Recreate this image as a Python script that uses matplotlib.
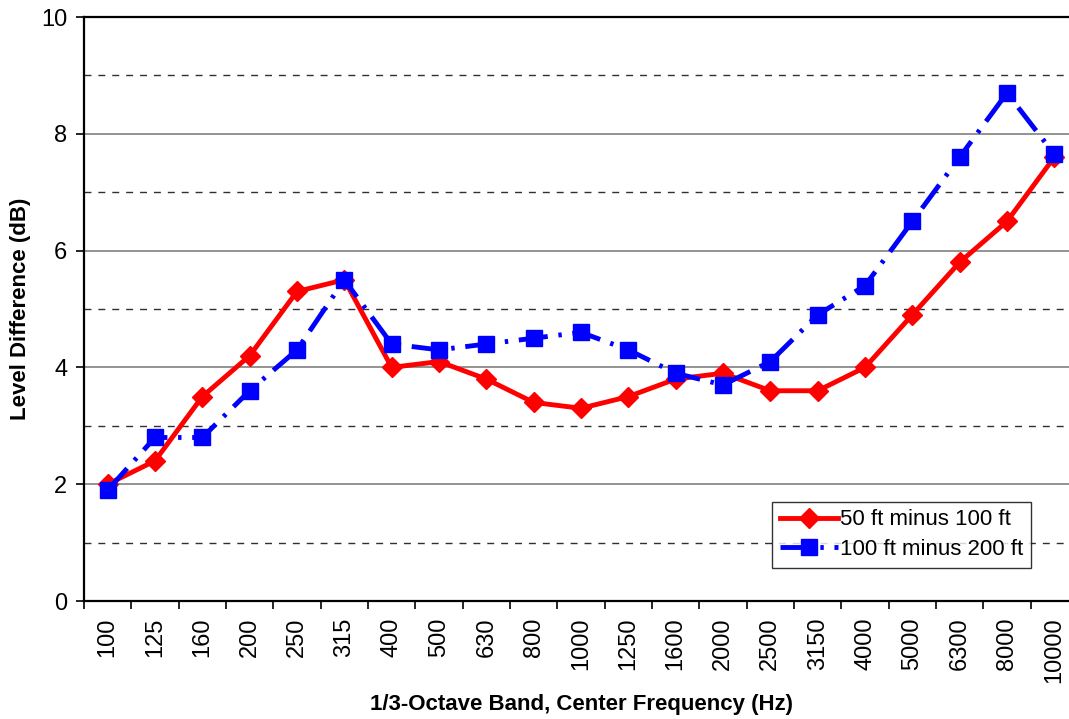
import matplotlib
matplotlib.use("Agg")
import matplotlib.pyplot as plt
import numpy as np

plt.rcParams['font.family'] = ['Liberation Sans', 'DejaVu Sans']

bands = ["100", "125", "160", "200", "250", "315", "400", "500", "630", "800",
         "1000", "1250", "1600", "2000", "2500", "3150", "4000", "5000",
         "6300", "8000", "10000"]
diff_50_100 = [2.0, 2.4, 3.5, 4.2, 5.3, 5.5, 4.0, 4.1, 3.8, 3.4,
               3.3, 3.5, 3.8, 3.9, 3.6, 3.6, 4.0, 4.9, 5.8, 6.5, 7.6]
diff_100_200 = [1.9, 2.8, 2.8, 3.6, 4.3, 5.5, 4.4, 4.3, 4.4, 4.5,
                4.6, 4.3, 3.9, 3.7, 4.1, 4.9, 5.4, 6.5, 7.6, 8.7, 7.65]

fig = plt.figure(figsize=(10.69, 7.19), dpi=100)
ax = fig.add_axes([84 / 1069, 118 / 719, 994 / 1069, 584 / 719])

x = np.arange(len(bands))

# grid lines like the Excel chart: solid at even, dashed at odd
for v in [2, 4, 6, 8]:
    ax.axhline(v, color='#808080', lw=1.2, zorder=1)
for v in [1, 3, 5, 7, 9]:
    ax.axhline(v, color='#303030', lw=1.0, ls=(0, (5, 5)), zorder=1)

ax.plot(x, diff_50_100, color='#ff0000', lw=3.5, marker='D', markersize=10,
        label='50 ft minus 100 ft', zorder=3)
ax.plot(x, diff_100_200, color='#0000ff', lw=3.5, marker='s', markersize=12,
        ls=(0, (6, 2.2, 0.7, 2.2)), label='100 ft minus 200 ft', zorder=3)

ax.set_xlim(-0.5, len(bands) - 0.5)
ax.set_ylim(0, 10)
ax.set_yticks(range(0, 11, 2))
ax.set_xticks(x)
ax.set_xticklabels(bands, rotation=90)
ax.set_xticks(np.arange(-0.5, len(bands), 1), minor=True)
ax.tick_params(axis='x', which='major', length=0, pad=12, labelsize=17)
ax.tick_params(axis='x', which='minor', length=6, width=1.2, direction='out')
ax.tick_params(axis='y', length=6, width=1.2, direction='out', labelsize=17, pad=6)

for s in ['left', 'bottom', 'top']:
    ax.spines[s].set_linewidth(1.6)
    ax.spines[s].set_color('black')
ax.spines['right'].set_visible(False)

ax.set_xlabel('1/3-Octave Band, Center Frequency (Hz)', fontsize=16,
              fontweight='bold', labelpad=8)
ax.set_ylabel('Level Difference (dB)', fontsize=16, fontweight='bold', labelpad=7)

leg = ax.legend(loc='lower right',
                bbox_to_anchor=((1031 - 84) / 994, (601 - 568) / 584),
                bbox_transform=ax.transAxes, fontsize=16, frameon=True,
                fancybox=False, edgecolor='black', handlelength=2.6,
                handletextpad=0.1, borderpad=0.35, labelspacing=0.4,
                borderaxespad=0)
leg.get_frame().set_linewidth(1.0)

fig.savefig('out.png', dpi=100)
